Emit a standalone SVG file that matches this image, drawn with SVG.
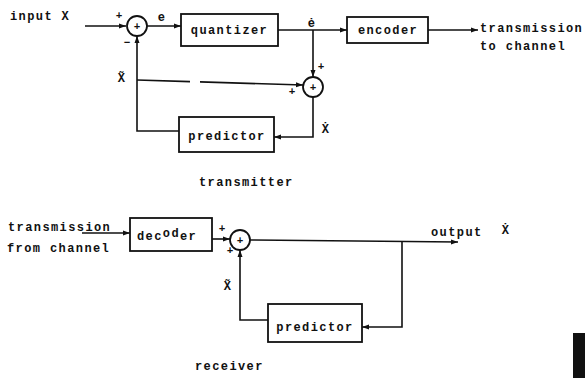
<svg xmlns="http://www.w3.org/2000/svg" width="585" height="378" viewBox="0 0 585 378">
<defs>
<marker id="ah" markerUnits="userSpaceOnUse" markerWidth="8" markerHeight="6" refX="7" refY="3" orient="auto">
<path d="M0,0.5 L7,3 L0,5.5 Z" fill="#111"/>
</marker>
<style>
.t{font-family:"Liberation Mono","DejaVu Sans Mono",monospace;font-weight:bold;font-size:12px;letter-spacing:1.4px;fill:#111}
.s{font-family:"Liberation Mono","DejaVu Sans Mono",monospace;font-weight:bold;font-size:11px;fill:#111}
.box{fill:#fff;stroke:#111;stroke-width:1.8}
.c{fill:#fff;stroke:#111;stroke-width:1.8}
.w{fill:none;stroke:#111;stroke-width:1.6}
.a{marker-end:url(#ah)}
</style>
</defs>
<rect width="585" height="378" fill="#fff"/>

<g id="connectors">
<line class="w a" x1="85" y1="26" x2="126" y2="26"/>
<line class="w a" x1="147" y1="26" x2="181" y2="26"/>
<line class="w a" x1="278" y1="30" x2="347" y2="30"/>
<line class="w a" x1="428" y1="30" x2="478" y2="30"/>
<line class="w a" x1="313" y1="30" x2="313" y2="77"/>
<line class="w" x1="137" y1="80" x2="190" y2="81.6"/>
<line class="w a" x1="200" y1="81.9" x2="303" y2="85"/>
<polyline class="w a" points="179,131 137,131 137,36"/>
<polyline class="w a" points="313,97 313,137 274,137"/>
<line class="w a" x1="82" y1="233" x2="130" y2="233"/>
<line class="w a" x1="212" y1="239" x2="230" y2="239"/>
<line class="w a" x1="250" y1="240" x2="458" y2="242"/>
<polyline class="w a" points="402,241 402,327 362,327"/>
<polyline class="w a" points="268,320 240,320 240,250"/>
</g>

<g id="input"><text class="t" x="10" y="20">input X</text></g>

<g id="sum1">
<circle class="c" cx="137" cy="26" r="10"/>
<text class="s" x="137" y="30" text-anchor="middle">+</text>
<text class="s" x="119" y="19" text-anchor="middle">+</text>
<text class="s" x="127" y="46" text-anchor="middle">−</text>
<text class="t" x="162" y="21" text-anchor="middle">e</text>
</g>

<g id="quantizer">
<rect class="box" x="181" y="14" width="97" height="32"/>
<text class="t" x="229.5" y="34" text-anchor="middle">quantizer</text>
</g>

<g id="encoder">
<rect class="box" x="347" y="17" width="81" height="26"/>
<text class="t" x="388" y="34" text-anchor="middle">encoder</text>
</g>

<g id="tx-out">
<text class="t" x="480" y="32">transmission</text>
<text class="t" x="480" y="50">to channel</text>
<text class="t" x="312" y="27" text-anchor="middle">ė</text>
</g>

<g id="sum2">
<circle class="c" cx="313" cy="87" r="10"/>
<text class="s" x="313" y="91" text-anchor="middle">+</text>
<text class="s" x="321" y="70" text-anchor="middle">+</text>
<text class="s" x="292" y="95" text-anchor="middle">+</text>
</g>

<g id="tx-labels">
<text class="t" x="122" y="82" text-anchor="middle">X̃</text>
<text class="t" x="326" y="133" text-anchor="middle">Ẋ</text>
</g>

<g id="predictor-tx">
<rect class="box" x="179" y="117" width="95" height="35"/>
<text class="t" x="227" y="140" text-anchor="middle">predictor</text>
</g>

<g id="transmitter-label"><text class="t" x="199" y="186">transmitter</text></g>

<g id="rx-in">
<text class="t" x="8" y="231">transmission</text>
<text class="t" x="7" y="252">from channel</text>
</g>

<g id="decoder">
<rect class="box" x="130" y="218" width="82" height="33"/>
<text class="t" x="137" y="240">dec<tspan dy="-3">od</tspan><tspan dy="3">er</tspan></text>
</g>

<g id="sum3">
<circle class="c" cx="240" cy="240" r="10"/>
<text class="s" x="240" y="244" text-anchor="middle">+</text>
<text class="s" x="222" y="232" text-anchor="middle">+</text>
<text class="s" x="230" y="254" text-anchor="middle">+</text>
<text class="t" x="228" y="290" text-anchor="middle">X̃</text>
</g>

<g id="output">
<text class="t" x="431" y="236">output</text>
<text class="t" x="506" y="234" text-anchor="middle">Ẋ</text>
</g>

<g id="predictor-rx">
<rect class="box" x="268" y="304" width="94" height="38"/>
<text class="t" x="315" y="331" text-anchor="middle">predictor</text>
</g>

<g id="receiver-label"><text class="t" x="195" y="370">receiver</text></g>

<rect x="573" y="333" width="12" height="45" fill="#111"/>
</svg>
